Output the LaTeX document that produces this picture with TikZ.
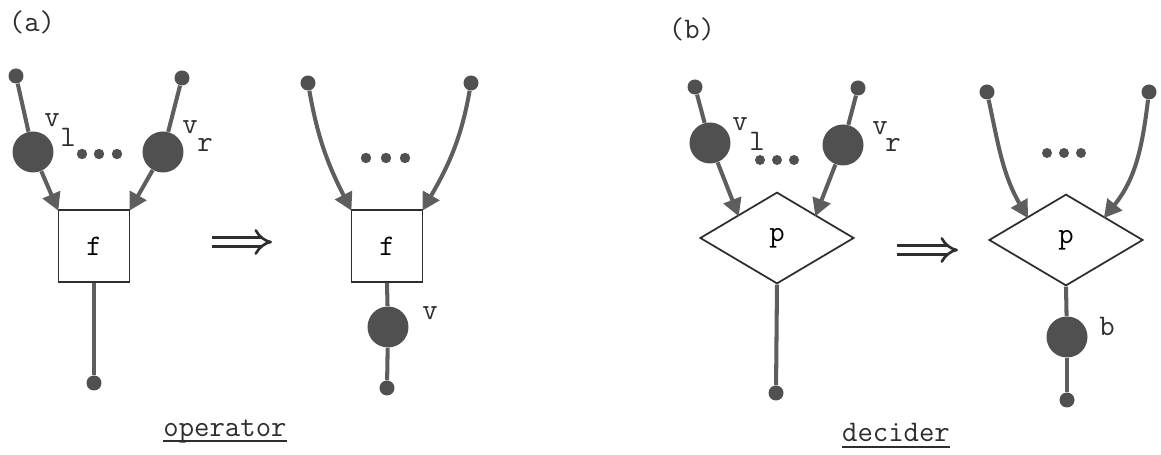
\documentclass[tikz,border=0pt]{standalone}
\usetikzlibrary{arrows.meta,shapes.geometric}
\definecolor{ink}{HTML}{505050}
\definecolor{wirec}{HTML}{5E5E5E}
\definecolor{boxc}{HTML}{2E2E2E}
\begin{document}
\begin{tikzpicture}[x=0.02cm,y=-0.02cm,
  lbl/.style={font=\fontsize{17}{20}\selectfont\ttfamily, inner sep=0pt, text=boxc},
  tinydot/.style={circle, fill=ink, draw=none, minimum size=0.3cm, inner sep=0pt},
  bigdot/.style={circle, fill=ink, draw=none, minimum size=0.82cm, inner sep=0pt},
  opbox/.style={rectangle, draw=boxc, line width=1pt, minimum width=1.42cm, minimum height=1.44cm, inner sep=0pt, font=\fontsize{17}{20}\selectfont\ttfamily},
  decbox/.style={diamond, draw=boxc, line width=1pt, minimum width=3.08cm, minimum height=1.83cm, inner sep=0pt, font=\fontsize{17}{20}\selectfont\ttfamily},
  wire/.style={draw=wirec, line width=2.3pt},
  edge/.style={wire, -{Triangle[length=10pt,width=10.5pt]}, shorten >=-1pt},
  ell/.style={fill=ink},
  uline/.style={draw=boxc, line width=1pt},
  implies/.style={draw=boxc, line width=1.5pt, double distance=3.5pt, -{Implies[length=9pt]}}
]
\useasboundingbox (0,0) rectangle (1161,455);

% ---------- (a) ----------
\node[lbl] (la) at (32,22) {(a)};

% left operator
\node[opbox] (f1) at (94,246) {f};
\node[tinydot] (a1t) at (16,76) {};
\node[bigdot] (a1c) at (33,152) {};
\node[tinydot] (a2t) at (182,78) {};
\node[bigdot] (a2c) at (163,152) {};
\node[tinydot] (a1b) at (94,383) {};
\draw[wire] (a1t) -- (a1c);
\draw[wire] (a2t) -- (a2c);
\draw[edge] (a1c) -- (f1.north west);
\draw[edge] (a2c) -- (f1.north east);
\draw[wire] (f1.south) -- (a1b);
\node[lbl] (a1v) at (52,120) {v};
\node[lbl] (a1s) at (68,137) {l};
\node[lbl] (a2v) at (190,127) {v};
\node[lbl] (a2s) at (205,145) {r};
\foreach \x in {82,99,117} \fill[ell] (\x,154) circle (5.2);

% arrow
\coordinate (ia1) at (212,242);
\coordinate (ia2) at (272,242);
\draw[implies] (ia1) -- (ia2);

% right operator
\node[opbox] (f2) at (387,246) {f};
\node[tinydot] (b1t) at (308,83) {};
\node[tinydot] (b2t) at (471,83) {};
\node[bigdot] (b2c) at (388,327) {};
\node[tinydot] (b2b) at (387,388) {};
\draw[edge] (b1t) to[out=-80,in=117] (f2.north west);
\draw[edge] (b2t) to[out=-100,in=60] (f2.north east);
\draw[wire] (f2.south) -- (b2c);
\draw[wire] (b2c) -- (b2b);
\node[lbl] (bv) at (430,313) {v};
\foreach \x in {366,386,405} \fill[ell] (\x,158) circle (5.2);

\node[lbl, anchor=base] (op) at (225,437) {operator};
\draw[uline] ([yshift=-0.08cm]op.base west) -- ([yshift=-0.08cm]op.base east);

% ---------- (b) ----------
\node[lbl] (lb) at (692,29) {(b)};

% left decider
\node[decbox] (p1) at (777,238) {p};
\node[tinydot] (c1t) at (695,87) {};
\node[bigdot] (c1c) at (710,143) {};
\node[tinydot] (c2t) at (858,88) {};
\node[bigdot] (c2c) at (843,145) {};
\node[tinydot] (c1b) at (776,393) {};
\draw[wire] (c1t) -- (c1c);
\draw[wire] (c2t) -- (c2c);
\draw[edge] (c1c) -- (p1.north west);
\draw[edge] (c2c) -- (p1.north east);
\draw[wire] (p1.south) -- (c1b);
\node[lbl] (c1v) at (740,124) {v};
\node[lbl] (c1s) at (757,141) {l};
\node[lbl] (c2v) at (880,128) {v};
\node[lbl] (c2s) at (893,145) {r};
\foreach \x in {760,777,794} \fill[ell] (\x,160) circle (5);

% arrow
\coordinate (ib1) at (897,250);
\coordinate (ib2) at (958,250);
\draw[implies] (ib1) -- (ib2);

% right decider
\node[decbox] (p2) at (1066,240) {p};
\node[tinydot] (d1t) at (987,92) {};
\node[tinydot] (d2t) at (1149,92) {};
\node[bigdot] (d2c) at (1067,337) {};
\node[tinydot] (d2b) at (1067,400) {};
\draw[edge] (d1t) to[out=-78,in=120] (p2.north west);
\draw[edge] (d2t) to[out=-97,in=51] (p2.north east);
\draw[wire] (p2.south) -- (d2c);
\draw[wire] (d2c) -- (d2b);
\node[lbl] (db) at (1107,326) {b};
\foreach \x in {1047,1064,1081} \fill[ell] (\x,153) circle (5);

\node[lbl, anchor=base] (dc) at (896,442) {decider};
\draw[uline] ([yshift=-0.1cm]dc.base west) -- ([yshift=-0.1cm]dc.base east);
\end{tikzpicture}
\end{document}
